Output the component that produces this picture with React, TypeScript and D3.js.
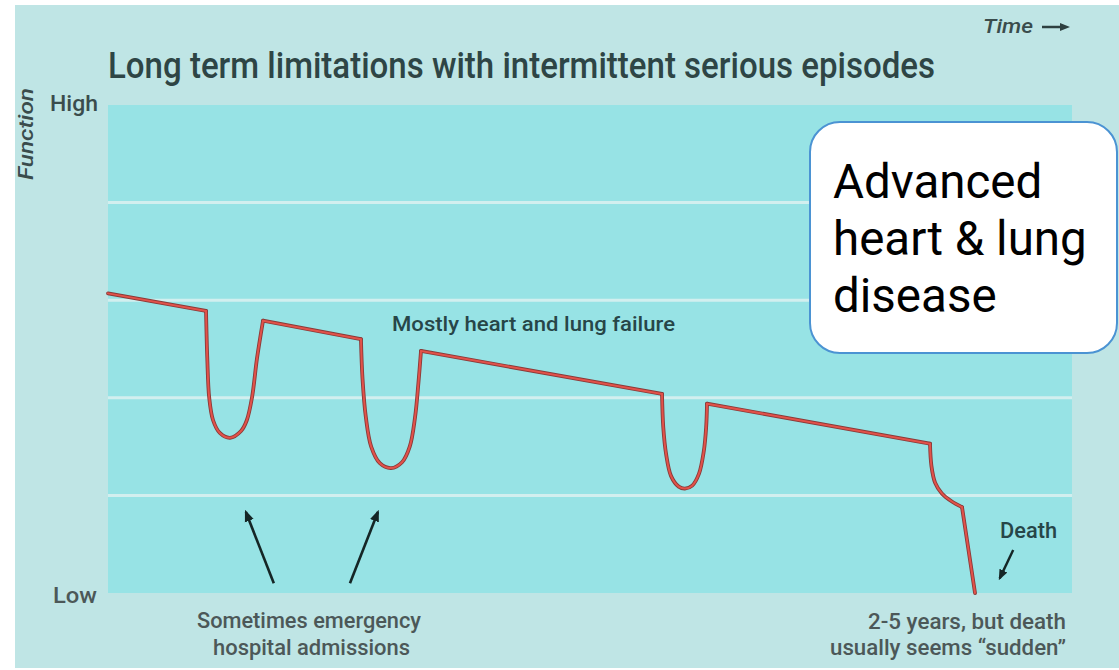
import * as d3 from "d3";

type Pt = [number, number];

// time runs 0..100, function runs 0 (Low) .. 5 (High)
const yLevels = [1, 2, 3, 4];

const declines: Pt[][] = [
  [[0, 3.07], [10.17, 2.89]],
  [[16.08, 2.79], [26.24, 2.6]],
  [[32.47, 2.48], [57.47, 2.04]],
  [[62.14, 1.94], [85.27, 1.53]],
];

const episodes: Pt[][] = [
  [[10.17, 2.89], [10.3, 2.4], [10.5, 2.0], [10.9, 1.77], [11.6, 1.64], [12.66, 1.59], [13.8, 1.66], [14.4, 1.77], [14.95, 2.01], [15.45, 2.4], [16.08, 2.79]],
  [[26.24, 2.6], [26.4, 2.2], [26.75, 1.8], [27.3, 1.5], [28.2, 1.33], [29.36, 1.28], [30.5, 1.34], [31.3, 1.5], [31.85, 1.8], [32.2, 2.15], [32.47, 2.48]],
  [[57.47, 2.04], [57.6, 1.7], [57.9, 1.42], [58.4, 1.2], [59.2, 1.09], [59.85, 1.07], [60.6, 1.1], [61.3, 1.22], [61.8, 1.45], [62.05, 1.7], [62.14, 1.94]],
];

const finalDecline: Pt[] = [[85.27, 1.53], [85.42, 1.3], [85.8, 1.13], [86.5, 1.02], [87.5, 0.94], [88.59, 0.88]];
const finalPlunge: Pt[] = [[88.59, 0.88], [89.94, 0]];

// annotation arrows: [from, to]
const admissionArrows: [Pt, Pt][] = [
  [[17.2, 0.1], [14.3, 0.83]],
  [[25.1, 0.1], [28.0, 0.83]],
];
const deathArrow: [Pt, Pt] = [[93.9, 0.44], [92.5, 0.15]];

const title = "Long term limitations with intermittent serious episodes";
const boxLines = ["Advanced", "heart & lung", "disease"];
const admissionLines = ["Sometimes emergency", "hospital admissions"];
const deathLines = ["2-5 years, but death", "usually seems \u201csudden\u201d"];

const narrow = "Roboto, sans-serif";

export default function App() {
  const x = d3.scaleLinear().domain([0, 100]).range([108, 1072]);
  const y = d3.scaleLinear().domain([0, 5]).range([593, 105]);

  const straight = d3.line<Pt>().x((d) => x(d[0])).y((d) => y(d[1]));
  const smooth = d3
    .line<Pt>()
    .x((d) => x(d[0]))
    .y((d) => y(d[1]))
    .curve(d3.curveCatmullRom.alpha(0.5));

  const paths = [
    ...declines.map((d) => straight(d)),
    ...episodes.map((d) => smooth(d)),
    smooth(finalDecline),
    straight(finalPlunge),
  ];

  const arrow = (a: [Pt, Pt], key: string, w = 2.6) => (
    <line
      key={key}
      x1={x(a[0][0])}
      y1={y(a[0][1])}
      x2={x(a[1][0])}
      y2={y(a[1][1])}
      stroke="#152626"
      strokeWidth={w}
      markerEnd="url(#head)"
    />
  );

  return (
    <svg width={1119} height={670} style={{ position: "absolute", left: 0, top: 0 }}>
      <defs>
        <marker id="head" viewBox="0 0 10 10" refX="8" refY="5" markerWidth="4.5" markerHeight="4.5" orient="auto">
          <path d="M0,1 L10,5 L0,9 Z" fill="#152626" />
        </marker>
      </defs>
      <rect x={0} y={0} width={1119} height={670} fill="#ffffff" />
      <rect x={15} y={5} width={1104} height={663} fill="#bfe5e5" />
      <rect x={x(0)} y={y(5)} width={x(100) - x(0)} height={y(0) - y(5)} fill="#97e3e5" />
      {yLevels.map((v) => (
        <line key={v} x1={x(0)} x2={x(100)} y1={y(v)} y2={y(v)} stroke="#d2efef" strokeWidth={3} />
      ))}

      <text x={108} y={78} fontFamily={narrow} fontWeight={500} fontSize={36} fill="#2e4545" textLength={827} lengthAdjust="spacingAndGlyphs">
        {title}
      </text>
      <text x={983} y={33} fontFamily={narrow} fontWeight={500} fontStyle="italic" fontSize={20} fill="#3a4c4c" textLength={50} lengthAdjust="spacingAndGlyphs">
        Time
      </text>
      <line x1={1042} x2={1062} y1={27} y2={27} stroke="#2e4040" strokeWidth={2.5} />
      <path d="M1070,27 L1060,23 L1060,31 Z" fill="#2e4040" />

      <text
        transform={`translate(33,134) rotate(-90)`}
        textAnchor="middle"
        fontFamily={narrow}
        fontWeight={500}
        fontStyle="italic"
        fontSize={21}
        fill="#3a4c4c"
        textLength={92}
        lengthAdjust="spacingAndGlyphs"
      >
        Function
      </text>
      <text x={50} y={y(5) + 6} fontFamily={narrow} fontWeight={500} fontSize={22} fill="#3a4c4c" textLength={48} lengthAdjust="spacingAndGlyphs">
        High
      </text>
      <text x={53} y={y(0) + 10} fontFamily={narrow} fontWeight={500} fontSize={22} fill="#4c5858" textLength={44} lengthAdjust="spacingAndGlyphs">
        Low
      </text>

      {paths.map((d, i) => (
        <path key={`u${i}`} d={d ?? ""} fill="none" stroke="#8a3a38" strokeWidth={3.8} strokeLinecap="round" strokeLinejoin="round" />
      ))}
      {paths.map((d, i) => (
        <path key={`p${i}`} d={d ?? ""} fill="none" stroke="#e2524a" strokeWidth={2} strokeLinecap="round" strokeLinejoin="round" />
      ))}

      <text x={392} y={331} fontFamily={narrow} fontWeight={500} fontSize={21} fill="#274648" textLength={283} lengthAdjust="spacingAndGlyphs">
        Mostly heart and lung failure
      </text>

      {admissionArrows.map((a, i) => arrow(a, `a${i}`))}
      {arrow(deathArrow, "death", 2.4)}

      <text x={1000} y={538} fontFamily={narrow} fontWeight={500} fontSize={22} fill="#274648" textLength={57} lengthAdjust="spacingAndGlyphs">
        Death
      </text>

      <text x={197} y={628} fontFamily={narrow} fontWeight={500} fontSize={22} fill="#4c5858" textLength={224} lengthAdjust="spacingAndGlyphs">
        {admissionLines[0]}
      </text>
      <text x={213} y={655} fontFamily={narrow} fontWeight={500} fontSize={22} fill="#4c5858" textLength={197} lengthAdjust="spacingAndGlyphs">
        {admissionLines[1]}
      </text>
      <text x={868} y={629} fontFamily={narrow} fontWeight={500} fontSize={22} fill="#4c5858" textLength={198} lengthAdjust="spacingAndGlyphs">
        {deathLines[0]}
      </text>
      <text x={830} y={655} fontFamily={narrow} fontWeight={500} fontSize={22} fill="#4c5858" textLength={236} lengthAdjust="spacingAndGlyphs">
        {deathLines[1]}
      </text>

      <rect x={810} y={122} width={307} height={231} rx={30} ry={30} fill="#ffffff" stroke="#4b93d3" strokeWidth={2} />
      {boxLines.map((l, i) => (
        <text key={l} x={833} y={198 + i * 57} fontFamily="Roboto, sans-serif" fontSize={47.5} fill="#000000">
          {l}
        </text>
      ))}
    </svg>
  );
}
